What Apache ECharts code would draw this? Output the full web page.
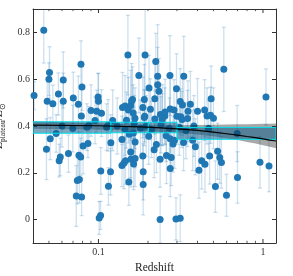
<!DOCTYPE html>
<html><head><meta charset="utf-8">
<script src="https://cdn.jsdelivr.net/npm/echarts@6/dist/echarts.min.js"></script>
<style>html,body{margin:0;padding:0;background:#fff}#c{width:293px;height:276px}</style>
</head><body><div id="c"></div>
<script>
const redshift = [0.0406,0.0465,0.0483,0.0488,0.0500,0.0504,0.0509,0.0528,0.0553,0.0571,0.0577,0.0586,0.0600,0.0611,0.0611,0.0657,0.0698,0.0703,0.0733,0.0744,0.0755,0.0761,0.0765,0.0780,0.0783,0.0787,0.0790,0.0794,0.0806,0.0850,0.0863,0.0876,0.0901,0.0953,0.0976,0.0995,0.1000,0.1010,0.1030,0.1033,0.1043,0.1120,0.1145,0.1150,0.1184,0.1189,0.1220,0.1300,0.1390,0.1390,0.1400,0.1430,0.1450,0.1450,0.1460,0.1480,0.1510,0.1520,0.1530,0.1540,0.1570,0.1570,0.1580,0.1590,0.1610,0.1626,0.1630,0.1636,0.1650,0.1667,0.1670,0.1670,0.1760,0.1800,0.1860,0.1860,0.1870,0.1870,0.1900,0.1900,0.1910,0.1920,0.1950,0.2020,0.2030,0.2070,0.2100,0.2180,0.2200,0.2200,0.2230,0.2250,0.2290,0.2290,0.2330,0.2370,0.2370,0.2380,0.2400,0.2440,0.2450,0.2530,0.2540,0.2580,0.2590,0.2700,0.2720,0.2730,0.2730,0.2730,0.2770,0.2840,0.2880,0.2900,0.2960,0.2980,0.3000,0.3100,0.3140,0.3140,0.3160,0.3220,0.3240,0.3290,0.3300,0.3400,0.3480,0.3500,0.3620,0.3740,0.3800,0.3880,0.4000,0.4080,0.4240,0.4420,0.4440,0.4570,0.4670,0.4740,0.4800,0.4840,0.5000,0.5140,0.5300,0.5460,0.5590,0.5780,0.6000,0.6970,0.7000,0.9590,1.0430,1.0880];
const zPlateau = [0.530,0.809,0.301,0.506,0.600,0.629,0.346,0.495,0.368,0.537,0.252,0.268,0.400,0.597,0.506,0.282,0.389,0.520,0.101,0.167,0.493,0.275,0.171,0.268,0.664,0.443,0.097,0.567,0.315,0.395,0.325,0.403,0.466,0.424,0.463,0.524,0.506,0.007,0.018,0.208,0.455,0.395,0.403,0.142,0.205,0.328,0.424,0.400,0.342,0.231,0.479,0.242,0.486,0.385,0.251,0.425,0.703,0.468,0.161,0.365,0.488,0.289,0.259,0.507,0.513,0.456,0.370,0.238,0.410,0.433,0.332,0.261,0.616,0.390,0.272,0.479,0.204,0.150,0.513,0.436,0.442,0.703,0.400,0.356,0.562,0.472,0.385,0.299,0.516,0.430,0.676,0.321,0.613,0.576,0.548,0.258,0.000,0.449,0.405,0.428,0.446,0.443,0.460,0.358,0.274,0.390,0.616,0.473,0.218,0.346,0.265,0.323,0.468,0.339,0.003,0.559,0.442,0.395,0.505,0.006,0.439,0.428,0.490,0.329,0.613,0.380,0.432,0.463,0.493,0.339,0.400,0.311,0.463,0.211,0.251,0.468,0.237,0.443,0.389,0.272,0.446,0.516,0.433,0.141,0.292,0.265,0.244,0.642,0.104,0.368,0.180,0.245,0.524,0.229];
const zErr = [0.06,0.14,0.13,0.10,0.07,0.11,0.09,0.08,0.08,0.09,0.07,0.08,0.09,0.12,0.12,0.08,0.10,0.11,0.13,0.10,0.12,0.10,0.10,0.08,0.10,0.12,0.08,0.10,0.12,0.10,0.06,0.08,0.11,0.10,0.09,0.10,0.12,0.07,0.06,0.10,0.10,0.10,0.11,0.08,0.10,0.12,0.13,0.12,0.10,0.09,0.15,0.11,0.13,0.11,0.10,0.12,0.17,0.14,0.10,0.12,0.15,0.11,0.12,0.16,0.14,0.12,0.11,0.11,0.12,0.13,0.11,0.12,0.16,0.12,0.12,0.13,0.12,0.13,0.15,0.12,0.11,0.20,0.13,0.12,0.14,0.13,0.12,0.12,0.15,0.12,0.12,0.12,0.22,0.16,0.14,0.12,0.10,0.13,0.12,0.11,0.13,0.12,0.14,0.11,0.12,0.13,0.17,0.13,0.12,0.12,0.12,0.12,0.13,0.12,0.09,0.15,0.12,0.12,0.14,0.10,0.12,0.12,0.13,0.12,0.17,0.12,0.12,0.13,0.14,0.13,0.13,0.12,0.14,0.12,0.12,0.13,0.12,0.12,0.12,0.12,0.12,0.14,0.13,0.11,0.12,0.11,0.11,0.18,0.09,0.12,0.11,0.11,0.12,0.11];

const fitZ  = [0.04,0.1,0.2,0.3,0.4,0.5,0.6,0.7,0.8,0.9,1.0,1.1,1.2];
const fitY  = [0.404,0.401,0.395,0.388,0.381,0.374,0.367,0.361,0.355,0.350,0.345,0.340,0.336];
const fitLo = [0.388,0.385,0.379,0.372,0.364,0.356,0.348,0.340,0.332,0.325,0.318,0.311,0.305];
const fitHi = [0.420,0.412,0.405,0.403,0.404,0.405,0.406,0.407,0.408,0.409,0.410,0.410,0.411];

const binEdges = [0.04,0.119,0.201,0.300,1.2];
const binLo = [0.369,0.371,0.371,0.343];
const binHi = [0.418,0.416,0.416,0.394];

const yTicks = [0,0.2,0.4,0.6,0.8];
const xMajor = [0.1,1];
const xMinor = [0.05,0.06,0.07,0.08,0.09,0.2,0.3,0.4,0.5,0.6,0.7,0.8,0.9];

const X_MIN = 0.04, X_MAX = 1.2, Y_MIN = -0.1, Y_MAX = 0.9;
const FONT = 'Liberation Serif';
const AX = '#333';

const chart = echarts.init(document.getElementById('c'), null, {renderer:'canvas'});

const pts = redshift.map((z,i)=>[z, zPlateau[i], zErr[i]]);
const bins = binLo.map((lo,i)=>[binEdges[i], binEdges[i+1], lo, binHi[i]]);
const ticks = xMajor.map(v=>[v,1]).concat(xMinor.map(v=>[v,0]));

const yAxisBase = {
  type:'value', min:Y_MIN, max:Y_MAX,
  axisLine:{show:true, onZero:false, lineStyle:{color:AX, width:1}},
  axisTick:{show:true, inside:true, length:4, customValues:yTicks, lineStyle:{color:AX}},
  splitLine:{show:false}
};

chart.setOption({
  animation:false,
  backgroundColor:'#fff',
  grid:{left:33, right:17, top:9, bottom:33, containLabel:false, outerBoundsMode:'none'},
  xAxis:[{
    type:'log', logBase:10, min:X_MIN, max:X_MAX,
    axisLine:{show:true, onZero:false, lineStyle:{color:AX, width:1}},
    axisTick:{show:false},
    splitLine:{show:false},
    axisLabel:{show:true, showMinLabel:false, showMaxLabel:false, margin:4,
      fontFamily:FONT, fontSize:10, color:'#333',
      formatter:v=>String(+(+v).toPrecision(3))},
    name:'Redshift', nameLocation:'middle', nameGap:13,
    nameTextStyle:{fontFamily:FONT, fontSize:11.5, color:'#222'}
  },{
    type:'log', logBase:10, min:X_MIN, max:X_MAX, position:'top',
    axisLine:{show:true, onZero:false, lineStyle:{color:AX, width:1}},
    axisTick:{show:false}, axisLabel:{show:false}, splitLine:{show:false}
  }],
  yAxis:[Object.assign({}, yAxisBase, {
    position:'left',
    axisLabel:{show:true, customValues:yTicks, margin:3, fontFamily:FONT, fontSize:10, color:'#333',
      formatter:v=> (Math.abs(v)<1e-9 ? '0' : (+v).toFixed(1))},
    name:'{z|Z}{s|plateau}{n|/}{z|Z}{s|⊙}', nameLocation:'middle', nameGap:13,
    nameTextStyle:{fontFamily:FONT, fontSize:11.5, color:'#222',
      rich:{
        z:{fontFamily:FONT, fontSize:12, fontStyle:'italic', color:'#222', lineHeight:16, verticalAlign:'middle'},
        n:{fontFamily:FONT, fontSize:12, color:'#222', lineHeight:16, verticalAlign:'middle'},
        s:{fontFamily:FONT, fontSize:7.5, color:'#222', lineHeight:16, verticalAlign:'bottom'}
      }}
  }), Object.assign({}, yAxisBase, {
    position:'right', axisLabel:{show:false}
  })],
  series:[
    {
      type:'custom', name:'err', coordinateSystem:'cartesian2d', xAxisIndex:0, yAxisIndex:0,
      clip:true, z:1,
      data:pts,
      renderItem:(params, api)=>{
        const z = api.value(0), y = api.value(1), e = api.value(2);
        const a = api.coord([z, y+e]), b = api.coord([z, y-e]);
        const st = {stroke:'rgba(31,119,180,0.22)', lineWidth:1.3};
        return {type:'group', children:[
          {type:'line', shape:{x1:a[0],y1:a[1],x2:b[0],y2:b[1]}, style:st},
          {type:'line', shape:{x1:a[0]-2,y1:a[1],x2:a[0]+2,y2:a[1]}, style:st},
          {type:'line', shape:{x1:b[0]-2,y1:b[1],x2:b[0]+2,y2:b[1]}, style:st}
        ]};
      }
    },
    {
      type:'scatter', name:'pts', xAxisIndex:0, yAxisIndex:0, z:2,
      data:pts.map(p=>[p[0],p[1]]), symbolSize:7,
      itemStyle:{color:'#1f77b4', opacity:1}
    },
    {
      type:'custom', name:'band', coordinateSystem:'cartesian2d', xAxisIndex:0, yAxisIndex:0,
      clip:true, z:3, data:[[0]],
      renderItem:(params, api)=>{
        const up = fitZ.map((z,i)=>api.coord([z, fitHi[i]]));
        const lo = fitZ.map((z,i)=>api.coord([z, fitLo[i]])).reverse();
        return {type:'polygon', shape:{points:up.concat(lo)}, style:{fill:'rgba(0,0,0,0.34)'}};
      }
    },
    {
      type:'custom', name:'bins', coordinateSystem:'cartesian2d', xAxisIndex:0, yAxisIndex:0,
      clip:true, z:4, data:bins,
      renderItem:(params, api)=>{
        const p0 = api.coord([api.value(0), api.value(3)]);
        const p1 = api.coord([api.value(1), api.value(2)]);
        return {type:'rect', shape:{x:p0[0], y:p0[1], width:p1[0]-p0[0], height:p1[1]-p0[1]},
          style:{fill:'rgba(17,95,138,0.55)', stroke:'#00e0ea', lineWidth:1}};
      }
    },
    {
      type:'line', name:'fit', xAxisIndex:0, yAxisIndex:0, z:5,
      data:fitZ.map((z,i)=>[z, fitY[i]]), showSymbol:false, smooth:false,
      lineStyle:{color:'#000', width:1.2}
    },
    {
      type:'custom', name:'xticks', coordinateSystem:'cartesian2d', xAxisIndex:0, yAxisIndex:0,
      clip:false, z:10, data:ticks,
      renderItem:(params, api)=>{
        const v = api.value(0), major = api.value(1) === 1;
        const len = major ? 4 : 2.2;
        const b = api.coord([v, Y_MIN]), t = api.coord([v, Y_MAX]);
        const st = {stroke:AX, lineWidth:major?1:0.8};
        return {type:'group', children:[
          {type:'line', shape:{x1:b[0],y1:b[1],x2:b[0],y2:b[1]-len}, style:st},
          {type:'line', shape:{x1:t[0],y1:t[1],x2:t[0],y2:t[1]+len}, style:st}
        ]};
      }
    }
  ]
});
</script></body></html>
